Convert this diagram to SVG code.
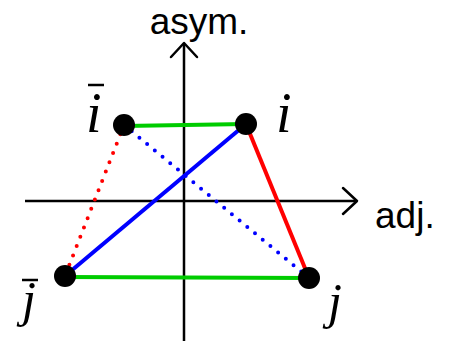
<svg xmlns="http://www.w3.org/2000/svg" width="460" height="348" viewBox="0 0 460 348">
<style>
.axis{stroke:#000;stroke-width:2.5;fill:none}
.arrow{stroke:#000;stroke-width:2.5;fill:none;stroke-linecap:round;stroke-linejoin:round}
.edge{stroke-width:4;fill:none;stroke-linecap:butt}
.dot{stroke-width:4;fill:none;stroke-linecap:round;stroke-dasharray:0 10}
.node{fill:#000}
.lab{font-family:"Liberation Serif",serif;font-style:italic;font-size:56px;fill:#000}
.labj{font-family:"Liberation Serif",serif;font-style:italic;font-size:50px;fill:#000}
.bar{stroke:#000;stroke-width:2.5}
.ax{font-family:"Liberation Sans",Arial,sans-serif;font-size:37px;fill:#000}
</style>
<rect width="460" height="348" fill="#fff"/>
<g id="axes">
<line class="axis" x1="184" y1="44" x2="184" y2="341"/>
<polyline class="arrow" points="171,57 184,43 197,57"/>
<line class="axis" x1="25" y1="201" x2="356" y2="201"/>
<polyline class="arrow" points="343,188 357,201 343,214"/>
<text class="ax" x="199" y="34" text-anchor="middle">asym.</text>
<text class="ax" x="375" y="228">adj.</text>
</g>
<g id="connectors">
<line class="edge" stroke="#00cc00" x1="124" y1="126" x2="246" y2="124"/>
<line class="edge" stroke="#00cc00" x1="65" y1="277" x2="309" y2="278"/>
<line class="edge" stroke="#0000ff" x1="65" y1="276" x2="246" y2="124"/>
<line class="edge" stroke="#ff0000" stroke-width="3.5" x1="246" y1="124" x2="309" y2="278"/>
<line class="dot" stroke="#ff0000" x1="124" y1="125" x2="65" y2="276"/>
<line class="dot" stroke="#0000ff" x1="124" y1="125" x2="309" y2="278"/>
</g>
<g id="node-ibar">
<circle class="node" cx="124" cy="125" r="11"/>
<text class="lab" x="86" y="132">i</text>
<line class="bar" x1="88" y1="85" x2="104" y2="85"/>
</g>
<g id="node-i">
<circle class="node" cx="246" cy="124" r="11"/>
<text class="lab" x="276" y="132">i</text>
</g>
<g id="node-jbar">
<circle class="node" cx="65" cy="276" r="11"/>
<text class="labj" x="22" y="316">j</text>
<line class="bar" x1="22" y1="280" x2="38" y2="280"/>
</g>
<g id="node-j">
<circle class="node" cx="309" cy="278" r="11"/>
<text class="labj" x="328" y="318">j</text>
</g>
</svg>
